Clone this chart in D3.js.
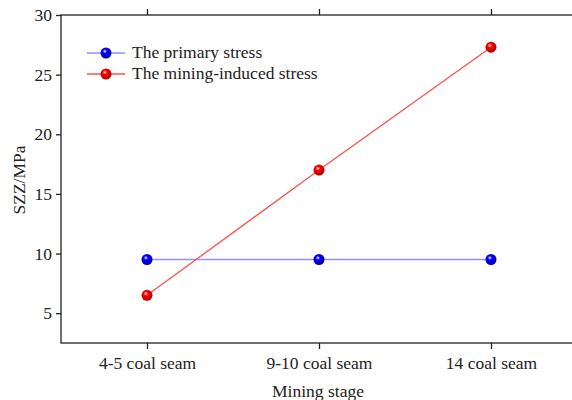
<!DOCTYPE html>
<html>
<head>
  <script src="https://d3js.org/d3.v7.min.js"></script>
  <style>
    body { margin: 0; background: #fff; }
    svg text { font-family: "Liberation Serif", "DejaVu Serif", serif !important; fill: #222; }
  </style>
</head>
<body>
  <div id="chart"></div>
  <script>
    const stages = ["4-5 coal seam", "9-10 coal seam", "14 coal seam"];
    const primaryStress = [9.5, 9.5, 9.5];
    const miningStress = [6.5, 17.0, 27.3];
    const yTicks = [5, 10, 15, 20, 25, 30];

    const series = [
      { name: "The primary stress", values: primaryStress, line: "#8f8fff", dot: "#0000ff", id: "gBlue" },
      { name: "The mining-induced stress", values: miningStress, line: "#ff5050", dot: "#ff0000", id: "gRed" }
    ];

    const width = 572, height = 400;
    const plotLeft = 61, plotTop = 15, plotBottom = 343, plotRight = 577;
    const fontSize = "17.5px";

    const svg = d3.select("#chart").append("svg")
      .attr("width", width)
      .attr("height", height);

    // sphere-looking markers
    const defs = svg.append("defs");
    series.forEach(s => {
      const g = defs.append("radialGradient")
        .attr("id", s.id)
        .attr("cx", "40%").attr("cy", "35%").attr("r", "65%");
      g.append("stop").attr("offset", "0%").attr("stop-color", "#fff");
      g.append("stop").attr("offset", "30%").attr("stop-color", s.dot);
      g.append("stop").attr("offset", "100%").attr("stop-color", d3.color(s.dot).darker(1.2));
    });

    const x = d3.scalePoint().domain(stages).range([plotLeft, plotRight]).padding(0.5);
    const y = d3.scaleLinear().domain([2.5, 30]).range([plotBottom, plotTop]);

    // frame
    svg.append("rect")
      .attr("x", plotLeft).attr("y", plotTop)
      .attr("width", plotRight - plotLeft).attr("height", plotBottom - plotTop)
      .attr("fill", "none").attr("stroke", "#222").attr("stroke-width", 1.3);

    // axes
    const yAxis = svg.append("g")
      .attr("transform", `translate(${plotLeft},0)`)
      .call(d3.axisLeft(y).tickValues(yTicks).tickSize(5).tickPadding(4));
    const xAxis = svg.append("g")
      .attr("transform", `translate(0,${plotBottom})`)
      .call(d3.axisBottom(x).tickSize(6).tickPadding(8));
    const xTop = svg.append("g")
      .attr("transform", `translate(0,${plotTop})`)
      .call(d3.axisTop(x).tickSize(6).tickFormat(""));

    [yAxis, xAxis, xTop].forEach(a => {
      a.attr("font-family", "Liberation Serif, serif").attr("font-size", fontSize);
      a.select(".domain").remove();
      a.selectAll("line").attr("stroke", "#222").attr("stroke-width", 1.3);
      a.selectAll("text").attr("fill", "#222");
    });

    // axis titles
    svg.append("text")
      .attr("x", 318).attr("y", 397)
      .attr("text-anchor", "middle")
      .style("font-size", fontSize)
      .text("Mining stage");
    svg.append("text")
      .attr("transform", "translate(25,180) rotate(-90)")
      .attr("text-anchor", "middle")
      .style("font-size", fontSize)
      .text("SZZ/MPa");

    // lines and markers
    const line = d3.line().x((d, i) => x(stages[i])).y(d => y(d));
    series.forEach(s => {
      svg.append("path")
        .attr("d", line(s.values))
        .attr("fill", "none")
        .attr("stroke", s.line)
        .attr("stroke-width", 1.3);
      svg.selectAll(null).data(s.values).enter().append("circle")
        .attr("cx", (d, i) => x(stages[i]))
        .attr("cy", d => y(d))
        .attr("r", 5.5)
        .attr("fill", `url(#${s.id})`);
    });

    // legend
    const legend = svg.append("g");
    series.forEach((s, i) => {
      const ly = 53 + i * 21;
      legend.append("line")
        .attr("x1", 87).attr("x2", 125).attr("y1", ly).attr("y2", ly)
        .attr("stroke", s.line).attr("stroke-width", 1.3);
      legend.append("circle")
        .attr("cx", 106).attr("cy", ly).attr("r", 5.5)
        .attr("fill", `url(#${s.id})`);
      legend.append("text")
        .attr("x", 132).attr("y", ly + 5)
        .style("font-size", fontSize)
        .text(s.name);
    });
  </script>
</body>
</html>
